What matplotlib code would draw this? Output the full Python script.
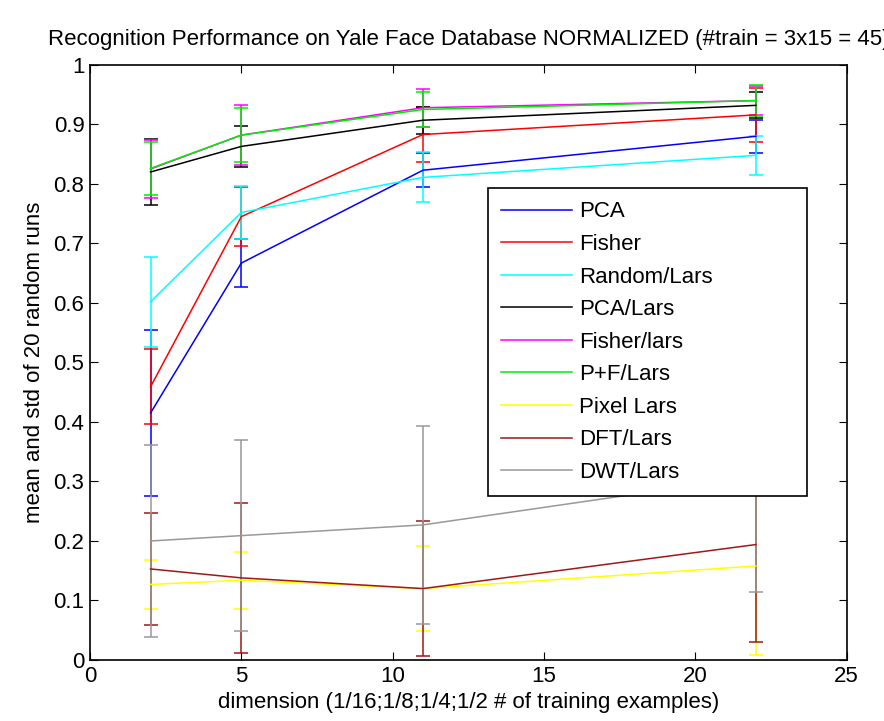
import numpy as np
import matplotlib
matplotlib.use("Agg")
import matplotlib.pyplot as plt

plt.rcParams['font.family'] = ['Liberation Sans', 'DejaVu Sans']

dims = [2, 5, 11, 22]

labels = ['PCA', 'Fisher', 'Random/Lars', 'PCA/Lars', 'Fisher/lars',
          'P+F/Lars', 'Pixel Lars', 'DFT/Lars', 'DWT/Lars']
colors = ['#0000ff', '#ff0000', '#00ffff', '#000000', '#ff00ff',
          '#00ee00', '#ffff00', '#a01818', '#999999']

means = [
    [0.415, 0.667, 0.823, 0.880],   # PCA
    [0.459, 0.745, 0.883, 0.916],   # Fisher
    [0.602, 0.752, 0.811, 0.848],   # Random/Lars
    [0.820, 0.863, 0.907, 0.932],   # PCA/Lars
    [0.825, 0.882, 0.928, 0.940],   # Fisher/lars
    [0.826, 0.882, 0.925, 0.940],   # P+F/Lars
    [0.127, 0.134, 0.120, 0.158],   # Pixel Lars
    [0.153, 0.138, 0.120, 0.194],   # DFT/Lars
    [0.200, 0.209, 0.227, 0.308],   # DWT/Lars
]
stds = [
    [0.140, 0.041, 0.029, 0.028],
    [0.063, 0.050, 0.046, 0.045],
    [0.076, 0.044, 0.042, 0.033],
    [0.056, 0.035, 0.023, 0.022],
    [0.048, 0.050, 0.032, 0.025],
    [0.045, 0.046, 0.029, 0.026],
    [0.041, 0.048, 0.071, 0.149],
    [0.094, 0.126, 0.113, 0.163],
    [0.162, 0.161, 0.166, 0.193],
]

fig = plt.figure(figsize=(8.84, 7.21), dpi=100)
ax = fig.add_axes([0.1018, 0.0846, 0.856, 0.8254])

for m, s, c, lab in zip(means, stds, colors, labels):
    ax.errorbar(dims, m, yerr=s, color=c, lw=1.1, elinewidth=1.1,
                capsize=5, capthick=1.1, label=lab)

ax.set_xlim(0, 25)
ax.set_ylim(0, 1)
ax.set_xticks([0, 5, 10, 15, 20, 25])
ax.set_yticks(np.arange(0, 1.01, 0.1))
ax.set_yticklabels(['0', '0.1', '0.2', '0.3', '0.4', '0.5', '0.6', '0.7', '0.8', '0.9', '1'])
ax.tick_params(direction='in', top=True, right=True, labelsize=16, length=6, pad=4)
for sp in ax.spines.values():
    sp.set_linewidth(1.2)

ax.set_xlabel('dimension (1/16;1/8;1/4;1/2 # of training examples)', fontsize=16, labelpad=4)
ax.set_ylabel('mean and std of 20 random runs', fontsize=16, labelpad=6)
ax.set_title('Recognition Performance on Yale Face Database NORMALIZED (#train = 3x15 = 45)',
             fontsize=16, pad=14)

handles, labs = ax.get_legend_handles_labels()
handles = [h[0] for h in handles]
leg = ax.legend(handles, labs, loc='upper left', bbox_to_anchor=(0.526, 0.282, 0.422, 0.511),
                mode='expand', borderaxespad=0, fontsize=16, handlelength=3.2,
                labelspacing=0.52, borderpad=0.6, handletextpad=0.3, fancybox=False,
                framealpha=1, edgecolor='black')
leg.get_frame().set_linewidth(1.2)

fig.savefig('out.png', dpi=100)
